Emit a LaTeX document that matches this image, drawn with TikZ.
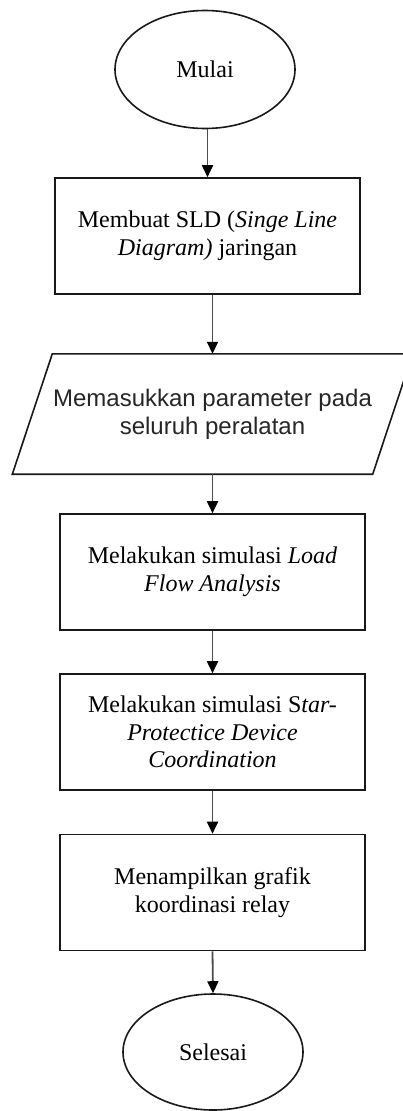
\documentclass[tikz,border=0pt]{standalone}
\usepackage{fontspec}
\setmainfont{Liberation Serif}
\newfontfamily\parafont{Liberation Sans}
\usetikzlibrary{shapes.geometric,arrows.meta}
\begin{document}
\begin{tikzpicture}[x=1pt,y=1pt,
  shapeline/.style={draw=black!90,line width=1.6pt},
  terminal/.style={shapeline,ellipse,minimum width=180pt,minimum height=118pt,inner sep=0pt,
    font=\fontsize{24}{27.5}\selectfont},
  procbox/.style={shapeline,rectangle,minimum width=305pt,minimum height=116pt,inner sep=0pt,
    align=center,font=\fontsize{24}{27.5}\selectfont},
  iobox/.style={rectangle,minimum width=360pt,minimum height=120pt,inner sep=0pt,
    align=center,font=\parafont\fontsize{24}{28}\selectfont,text=black!85},
  flow/.style={draw=black!70,line width=1.8pt,-{Triangle[width=11pt,length=12pt,color=black,fill=black]}}
]
\useasboundingbox (0,0) rectangle (402,-1111);
\fill[white] (0,0) rectangle (402,-1111);

\node[terminal] (m) at (205,-69.5) {Mulai};
\node[procbox] (b1) at (207.5,-236) {Membuat SLD (\textit{Singe Line}\\\textit{Diagram)} jaringan};
\node[iobox] (p) at (212.5,-414) {Memasukkan parameter pada\\seluruh peralatan};
\draw[shapeline] ([xshift=20pt]p.north west) -- ([xshift=20pt]p.north east)
  -- ([xshift=-20pt]p.south east) -- ([xshift=-20pt]p.south west) -- cycle;
\node[procbox] (b2) at (212.5,-572) {Melakukan simulasi \textit{Load}\\\textit{Flow Analysis}};
\node[procbox] (b3) at (212.5,-732) {Melakukan simulasi S\textit{tar-}\\\textit{Protectice Device}\\\textit{Coordination}};
\node[procbox] (b4) at (212.5,-892.5) {Menampilkan grafik\\koordinasi relay};
\node[terminal,minimum height=116pt] (s) at (213,-1052) {Selesai};

\draw[flow] (m.south -| b1.north) -- (b1.north);
\draw[flow] (b1.south -| p.north) -- (p.north);
\draw[flow] (p.south) -- (b2.north);
\draw[flow] (b2.south) -- (b3.north);
\draw[flow] (b3.south) -- (b4.north);
\draw[flow] (b4.south) -- (s.north);
\end{tikzpicture}
\end{document}
